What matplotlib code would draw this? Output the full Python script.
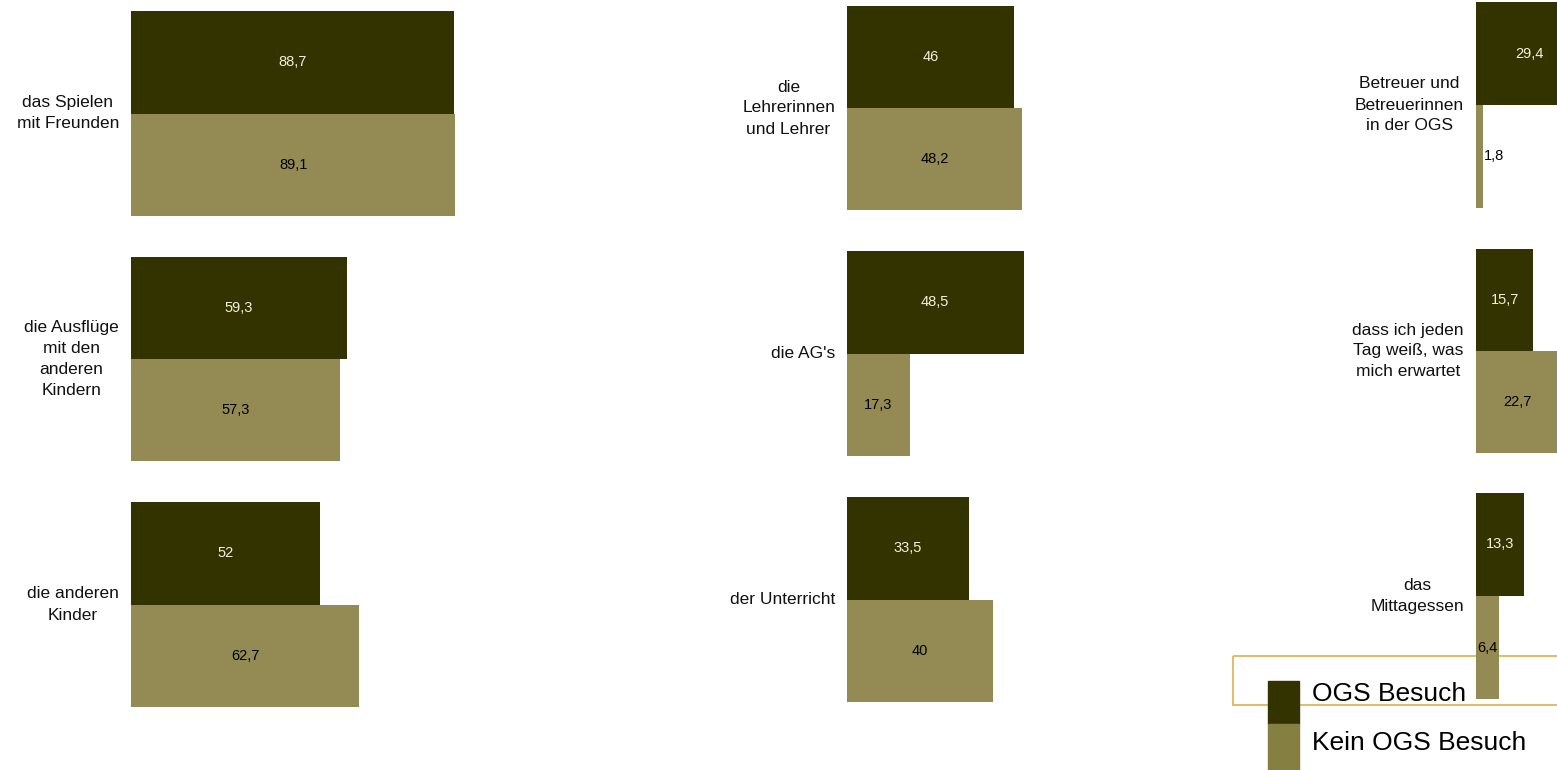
import matplotlib.pyplot as plt
from matplotlib.patches import Rectangle

plt.rcParams["font.family"] = ["Liberation Sans", "DejaVu Sans"]

# data, column by column (top to bottom)
categories = [
    "das Spielen\nmit Freunden",
    "die Ausflüge\nmit den\nanderen\nKindern",
    "die anderen\nKinder",
    "die\nLehrerinnen\nund Lehrer",
    "die AG's",
    "der Unterricht",
    "Betreuer und\nBetreuerinnen\nin der OGS",
    "dass ich jeden\nTag weiß, was\nmich erwartet",
    "das\nMittagessen",
]
ogs = [88.7, 59.3, 52, 46, 48.5, 33.5, 29.4, 15.7, 13.3]
kein_ogs = [89.1, 57.3, 62.7, 48.2, 17.3, 40, 1.8, 22.7, 6.4]
series_names = ["OGS Besuch", "Kein OGS Besuch"]

dark = "#333300"
light = "#948A54"
legend_light = "#858042"

W, H = 1557, 770
fig = plt.figure(figsize=(W / 100, H / 100), dpi=100)

# panel boxes in pixels: (top, bottom) per column and row
col_left = [131, 847, 1476]
row_bounds = [
    [(11, 216), (257, 461), (502, 707)],
    [(6, 210), (251, 456), (497, 702)],
    [(2, 208), (249, 453), (493, 699)],
]
px_per_unit = 3.64
xmax = 100

fmt = lambda v: ("%g" % v).replace(".", ",")

for i, cat in enumerate(categories):
    c, r = divmod(i, 3)
    top, bot = row_bounds[c][r]
    left = col_left[c]
    ax = fig.add_axes([left / W, 1 - bot / H, xmax * px_per_unit / W, (bot - top) / H])
    vals = [ogs[i], kein_ogs[i]]
    ax.barh([1, 0], vals, height=1.0, color=[dark, light])
    ax.set_xlim(0, xmax)
    ax.set_ylim(-0.5, 1.5)
    ax.axis("off")
    for y, v, tc in zip([1, 0], vals, ["#f0f0e0", "black"]):
        if v < 5:
            ax.text(v + 0.3, y, fmt(v), ha="left", va="center", fontsize=10.5, color=tc)
        else:
            ax.text(v / 2, y, fmt(v), ha="center", va="center", fontsize=10.5, color=tc)
    ax.text(-12 / px_per_unit, 0.5, cat, ha="right", va="center", multialignment="center",
            fontsize=12.5, linespacing=1.5, color="#111111", clip_on=False)

# legend drawn on full-figure overlays
lg = fig.add_axes([0, 0, 1, 1], zorder=-1)
lg.set_xlim(0, W)
lg.set_ylim(H, 0)
lg.axis("off")
lg.add_patch(Rectangle((1233, 656), 400, 49, fill=False, edgecolor="#D9B44A", linewidth=1.2))
lg_top = fig.add_axes([0, 0, 1, 1], zorder=5)
lg_top.set_xlim(0, W)
lg_top.set_ylim(H, 0)
lg_top.axis("off")
for k, (name, col) in enumerate(zip(series_names, [dark, legend_light])):
    y0 = 681 + k * 43
    lg_top.add_patch(Rectangle((1268, y0), 31, 43 + k * 3, color=col))
    lg_top.text(1312, y0 + 13 + k * 6, name, ha="left", va="center", fontsize=19, color="black")

fig.savefig("out.png", dpi=100)
